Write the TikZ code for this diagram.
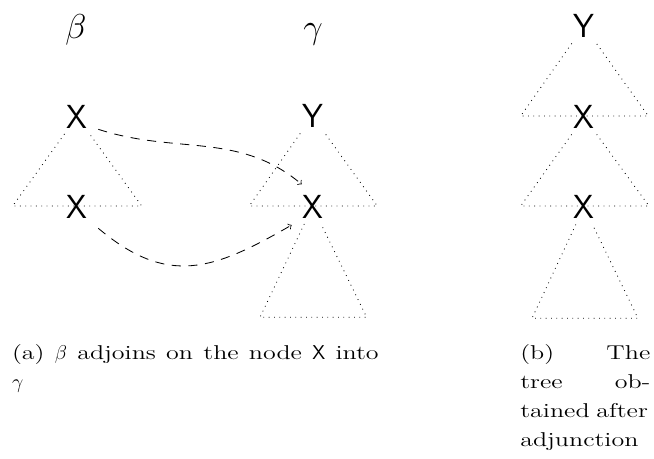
\documentclass[tikz,border=0pt]{standalone}
\usepackage{fontspec}
\newfontfamily\capfont{lmroman12-regular.otf}[FakeStretch=1.3]
\usetikzlibrary{calc}
\begin{document}
\begin{tikzpicture}[x=0.6pt,y=-0.6pt,
  lab/.style={font=\fontsize{20}{24}\selectfont\sffamily, inner sep=3.33pt},
  greek/.style={font=\fontsize{20}{24}\selectfont, inner sep=0pt, anchor=base},
  tri/.style={line width=0.5pt, dash pattern=on 0.5pt off 2.7pt},
  adj/.style={->, dash pattern=on 5.5pt off 4.5pt, line width=0.5pt},
  captext/.style={font=\capfont\fontsize{12}{17.4}\selectfont, inner sep=0pt, anchor=base west}]
\useasboundingbox (0,0) rectangle (654,458);
% labels
\node[greek] (beta) at (76,38) {$\beta$};
\node[greek] (gamma) at (313,38) {$\gamma$};
% tree nodes
\node[lab] (bx1) at (77,116.5) {X};
\node[lab] (bx2) at (77,206.5) {X};
\node[lab] (gy) at (312.5,116) {Y};
\node[lab] (gx) at (312.5,206.5) {X};
\node[lab] (ry) at (584,26) {Y};
\node[lab] (rx1) at (584,117) {X};
\node[lab] (rx2) at (584,207) {X};
% base corners
\coordinate (bL) at (12.7,206);   \coordinate (bR) at (141.7,206);
\coordinate (gL) at (249.3,206);  \coordinate (gR) at (377.3,206);
\coordinate (hL) at (260,317.3);  \coordinate (hR) at (366.7,317.3);
\coordinate (r1L) at (520.7,116); \coordinate (r1R) at (648.3,116);
\coordinate (r2L) at (520.7,206); \coordinate (r2R) at (649,206);
\coordinate (r3L) at (532,318.3); \coordinate (r3R) at (638,318.3);
% triangles
\draw[tri] (bx1) -- (bL) -- (bR) -- (bx1);
\draw[tri] (gy) -- (gL) -- (gR) -- (gy);
\draw[tri] (gx) -- (hL) -- (hR) -- (gx);
\draw[tri] (ry) -- (r1L) -- (r1R) -- (ry);
\draw[tri] (rx1) -- (r2L) -- (r2R) -- (rx1);
\draw[tri] (rx2) -- (r3L) -- (r3R) -- (rx2);
% adjunction arrows
\draw[adj] ($(bx1)+(21.3,12.8)$) to[out=-18,in=140] ($(gx)+(-10.8,-22.2)$);
\draw[adj] ($(bx2)+(21.3,21.8)$) to[out=-40,in=-150,looseness=1.2] ($(gx)+(-20.8,18.5)$);
% captions
\node[captext, text width=220pt, align=justify] (capa) at (11.7,359) {(a) $\beta$ adjoins on the node \textsf{X} into\linebreak $\gamma$};
\node[captext, text width=78pt, align=left] (capb) at (520,359) {(b)\hfill The\\tree\hfill ob-\\tained after\\adjunction};
\end{tikzpicture}
\end{document}
